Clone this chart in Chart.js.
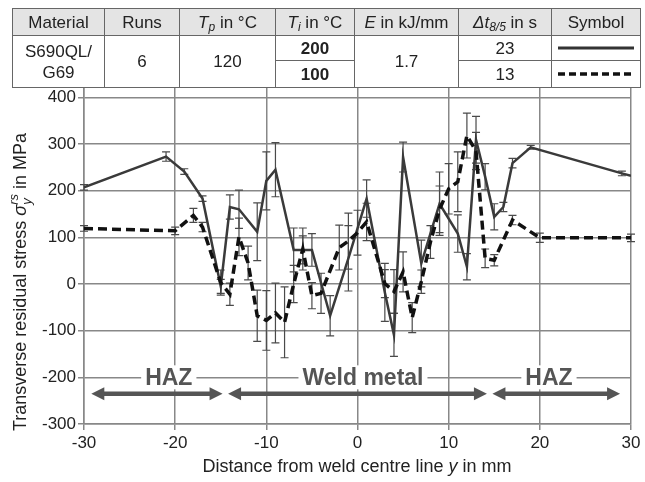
<!DOCTYPE html>
<html lang="en">
<head>
<meta charset="utf-8">
<title>Transverse residual stress</title>
<script src="https://cdn.jsdelivr.net/npm/chart.js@4"></script>
<style>
    body { margin: 0; background: #fff; }
    #wrap { position: relative; width: 645px; height: 482px; }
    #myChart { position: absolute; left: 0; top: 0; }
    #spec {
        position: absolute; left: 12px; top: 8px;
        border-collapse: collapse; table-layout: fixed; width: 628px;
        font: 17px "Liberation Sans", Arial, sans-serif; color: #222;
    }
    #spec td { border: 1.5px solid #666; text-align: center; padding: 0; line-height: 21px; }
    #spec tr.head td { background: #e4e4e4; height: 26px; }
    #spec tr.r1 td { height: 24px; }
    #spec tr.r2 td { height: 26px; }
    #spec sub { font-size: 12px; vertical-align: -3px; line-height: 0; }
    #spec svg { display: block; margin: 0 auto; }
</style>
</head>
<body>
<div id="wrap">
    <canvas id="myChart" width="645" height="482"></canvas>
    <table id="spec">
        <colgroup>
            <col style="width:92px"><col style="width:75px"><col style="width:96px"><col style="width:79px">
            <col style="width:104px"><col style="width:93px"><col style="width:89px">
        </colgroup>
        <tr class="head">
            <td>Material</td>
            <td>Runs</td>
            <td><i>T</i><sub><i>p</i></sub> in °C</td>
            <td><i>T</i><sub><i>i</i></sub> in °C</td>
            <td><i>E</i> in kJ/mm</td>
            <td><i>Δt</i><sub><i>8/5</i></sub> in s</td>
            <td>Symbol</td>
        </tr>
        <tr class="r1">
            <td rowspan="2">S690QL/<br>G69</td>
            <td rowspan="2">6</td>
            <td rowspan="2">120</td>
            <td><b>200</b></td>
            <td rowspan="2">1.7</td>
            <td>23</td>
            <td><svg width="76" height="8"><line x1="0" y1="4" x2="76" y2="4" stroke="#333" stroke-width="3"/></svg></td>
        </tr>
        <tr class="r2">
            <td><b>100</b></td>
            <td>13</td>
            <td><svg width="76" height="8"><line x1="0" y1="4" x2="76" y2="4" stroke="#111" stroke-width="3.5" stroke-dasharray="7,4"/></svg></td>
        </tr>
    </table>
</div>

<script>
    // Ti = 200 °C (solid line)
    const solidX = [-30, -21, -19, -17, -15, -14, -13, -11, -10, -9, -7, -6, -5, -3, -1, 1, 3, 4, 5, 7, 9, 11, 12, 13, 14, 15, 16, 17, 19, 29, 30];
    const solidY = [207, 273, 241, 183, -5, 165, 160, 112, 221, 245, 73, 73, 73, -68, 55, 183, -18, -109, 272, 44, 172, 108, 37, 309, 230, 144, 165, 259, 293, 237, 232];
    const solidErr = [6, 10, 6, 6, 15, 26, 41, 62, 62, 58, 47, 30, 35, 43, 70, 40, 62, 46, 32, 50, 68, 40, 28, 50, 28, 28, 10, 10, 4, 5, 0];

    // Ti = 100 °C (dashed line)
    const dashX = [-30, -20, -18, -17, -15, -14, -13, -12, -11, -10, -9, -8, -7, -6, -5, -4, -2, -1, 0, 1, 3, 4, 5, 6, 7, 8, 9, 10, 11, 12, 13, 14, 15, 17, 20, 30];
    const dashY = [119, 114, 147, 122, 3, -22, 101, 45, -68, -78, -62, -82, 0, 75, -25, -20, 78, 92, 110, 133, 1, -16, 26, -72, 5, 90, 160, 204, 219, 318, 285, 55, 51, 137, 99, 99];
    const dashErr = [6, 8, 15, 10, 27, 24, 40, 36, 55, 64, 64, 76, 40, 45, 28, 43, 48, 60, 48, 40, 30, 47, 43, 32, 25, 35, 50, 54, 64, 48, 40, 20, 12, 10, 10, 8];

    // zones along the bottom
    const zoneLabels = ["HAZ", "Weld metal", "HAZ"];
    const zoneFrom = [-29.2, -14.2, 14.8];
    const zoneTo = [-14.8, 14.2, 28.8];
    const zoneTextX = [-20.7, 0.6, 21];
    const zoneTextY = -200;
    const zoneArrowY = -235;

    const family = '"Liberation Sans", Arial, sans-serif';

    function pts(xs, ys) {
        return xs.map((x, i) => ({ x: x, y: ys[i] }));
    }

    const errorBars = {
        id: "errorBars",
        beforeDatasetsDraw(chart) {
            const ctx = chart.ctx, xs = chart.scales.x, ys = chart.scales.y;
            ctx.save();
            ctx.strokeStyle = "#4a4a4a";
            ctx.lineWidth = 1.2;
            chart.data.datasets.forEach(ds => {
                ds.data.forEach((p, i) => {
                    const e = ds.errors[i];
                    if (!e) return;
                    const px = xs.getPixelForValue(p.x);
                    const top = ys.getPixelForValue(p.y + e);
                    const bot = ys.getPixelForValue(p.y - e);
                    ctx.beginPath();
                    ctx.moveTo(px, top); ctx.lineTo(px, bot);
                    ctx.moveTo(px - 4, top); ctx.lineTo(px + 4, top);
                    ctx.moveTo(px - 4, bot); ctx.lineTo(px + 4, bot);
                    ctx.stroke();
                });
            });
            ctx.restore();
        }
    };

    function arrowHead(ctx, x, y, dir) {
        ctx.beginPath();
        ctx.moveTo(x, y);
        ctx.lineTo(x - dir * 13, y - 6.5);
        ctx.lineTo(x - dir * 13, y + 6.5);
        ctx.closePath();
        ctx.fill();
    }

    const zones = {
        id: "zones",
        afterDatasetsDraw(chart) {
            const ctx = chart.ctx, xs = chart.scales.x, ys = chart.scales.y;
            ctx.save();
            ctx.strokeStyle = "#555";
            ctx.fillStyle = "#555";
            ctx.lineWidth = 4.5;
            const ay = ys.getPixelForValue(zoneArrowY);
            zoneLabels.forEach((lab, i) => {
                const x1 = xs.getPixelForValue(zoneFrom[i]);
                const x2 = xs.getPixelForValue(zoneTo[i]);
                ctx.beginPath();
                ctx.moveTo(x1 + 8, ay); ctx.lineTo(x2 - 8, ay);
                ctx.stroke();
                arrowHead(ctx, x1, ay, -1);
                arrowHead(ctx, x2, ay, 1);

                ctx.font = "bold 23px " + family;
                ctx.textAlign = "center";
                ctx.textBaseline = "middle";
                const tx = xs.getPixelForValue(zoneTextX[i]);
                const ty = ys.getPixelForValue(zoneTextY);
                const w = ctx.measureText(lab).width;
                ctx.fillStyle = "#fff";
                ctx.fillRect(tx - w / 2 - 4, ty - 12, w + 8, 24);
                ctx.fillStyle = "#555";
                ctx.fillText(lab, tx, ty + 1);
            });
            ctx.restore();
        }
    };

    // draws a row of text pieces (some italic / raised / lowered), centred at cx, cy
    function drawRich(ctx, parts, cx, cy) {
        let total = 0;
        parts.forEach(p => {
            ctx.font = p.font;
            p.w = ctx.measureText(p.t).width;
            if (p.adv !== false) total += p.w;
        });
        let x = cx - total / 2;
        ctx.textAlign = "left";
        ctx.textBaseline = "middle";
        parts.forEach(p => {
            ctx.font = p.font;
            ctx.fillText(p.t, x, cy + (p.dy || 0));
            if (p.adv !== false) x += p.w;
        });
    }

    const axisTitles = {
        id: "axisTitles",
        afterDraw(chart) {
            const ctx = chart.ctx;
            const base = "18px " + family, ital = "italic 18px " + family, small = "italic 13px " + family;
            ctx.save();
            ctx.fillStyle = "#222";
            drawRich(ctx, [
                { t: "Distance from weld centre line ", font: base },
                { t: "y", font: ital },
                { t: " in mm", font: base }
            ], 357, 467);

            ctx.translate(21, 282);
            ctx.rotate(-Math.PI / 2);
            drawRich(ctx, [
                { t: "Transverse residual stress ", font: base },
                { t: "σ", font: ital },
                { t: "y", font: small, dy: 6, adv: false },
                { t: "rs", font: small, dy: -7 },
                { t: " in MPa", font: base }
            ], 0, 0);
            ctx.restore();
        }
    };

    new Chart("myChart", {
        type: "line",
        data: {
            datasets: [
                {
                    data: pts(dashX, dashY),
                    errors: dashErr,
                    borderColor: "#111",
                    borderWidth: 3.5,
                    borderDash: [9, 5],
                    fill: false,
                    order: 0
                },
                {
                    data: pts(solidX, solidY),
                    errors: solidErr,
                    borderColor: "#3a3a3a",
                    borderWidth: 2.5,
                    fill: false,
                    order: 1
                }
            ]
        },
        options: {
            responsive: false,
            animation: false,
            layout: { padding: { top: 88, right: 14, left: 0, bottom: 0 } },
            elements: { point: { radius: 0 }, line: { tension: 0 } },
            plugins: { legend: { display: false }, tooltip: { enabled: false } },
            scales: {
                x: {
                    type: "linear",
                    min: -30,
                    max: 30,
                    ticks: { stepSize: 10, color: "#222", padding: 3, maxRotation: 0, font: { size: 17, family: family } },
                    grid: { color: "#888", lineWidth: 1.5, tickLength: 6 },
                    border: { color: "#888", width: 1.5 },
                    afterFit(s) { s.height = 58; }
                },
                y: {
                    min: -300,
                    max: 420,
                    ticks: { stepSize: 100, includeBounds: false, color: "#222", padding: 2, font: { size: 17, family: family } },
                    grid: { color: "#888", lineWidth: 1.5, tickLength: 6 },
                    border: { color: "#888", width: 1.5 },
                    afterFit(s) { s.width = 84; }
                }
            }
        },
        plugins: [errorBars, zones, axisTitles]
    });
</script>
</body>
</html>
